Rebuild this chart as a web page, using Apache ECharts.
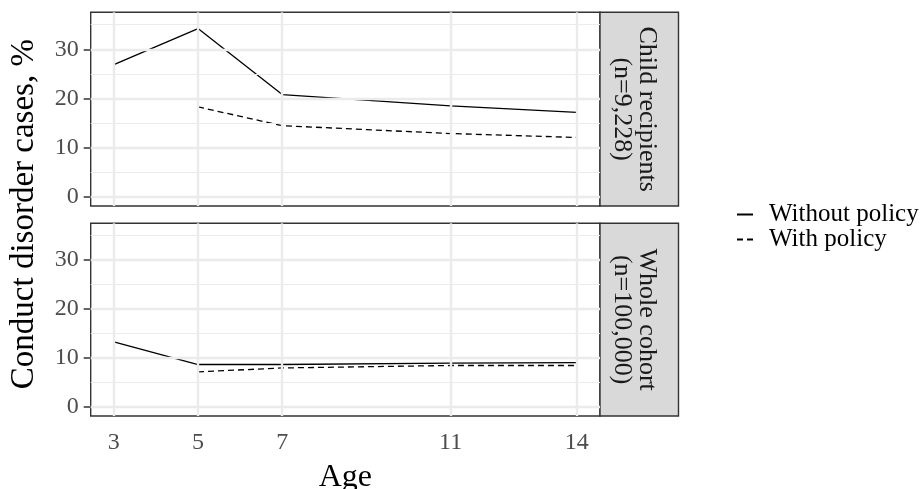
<!DOCTYPE html>
<html>
<head>
<meta charset="utf-8">
<script src="https://cdn.jsdelivr.net/npm/echarts@6/dist/echarts.min.js"></script>
<style>
html,body{margin:0;padding:0;background:#fff;}
#chart{width:922px;height:489px;}
</style>
</head>
<body>
<div id="chart"></div>
<script>
// ---- data ----
const ages = [3, 5, 7, 11, 14];
const childWithout = [26.9, 34.2, 20.8, 18.5, 17.2];
const childWith = [null, 18.3, 14.5, 12.9, 12.1];
const cohortWithout = [13.3, 8.7, 8.7, 9.0, 9.1];
const cohortWith = [null, 7.2, 8.0, 8.5, 8.5];
const yTicks = [0, 10, 20, 30];
const yMinor = [5, 15, 25, 35];
const panelLabels = ['Child recipients\n(n=9,228)', 'Whole cohort\n(n=100,000)'];
const seriesNames = ['Without policy', 'With policy'];

// ---- layout ----
const L = 90.7, R = 600;
const T1 = 12.3, B1 = 206, T2 = 223.3, B2 = 416;
const STRIP_W = 78.5;
const FONT = 'Liberation Serif';

function pairs(xs, ys) {
  const out = [];
  xs.forEach((x, i) => { if (ys[i] != null) out.push([x, ys[i]]); });
  return out;
}

const grids = [
  {left: L, top: T1, width: R - L, height: B1 - T1},
  {left: L, top: T2, width: R - L, height: B2 - T2}
].map(g => Object.assign(g, {show: true, backgroundColor: '#fff', borderColor: '#333', borderWidth: 1.4, containLabel: false}));

function xAxis(idx, showLabels) {
  return {
    type: 'value', gridIndex: idx, min: 2.45, max: 14.55,
    axisLine: {show: false},
    splitLine: {show: false},
    axisTick: {show: showLabels, customValues: ages, length: 7, lineStyle: {color: '#333', width: 1.5}},
    axisLabel: {show: showLabels, customValues: ages, margin: 15, color: '#4d4d4d', fontSize: 24, fontFamily: FONT}
  };
}
function yAxis(idx) {
  return {
    type: 'value', gridIndex: idx, min: -1.8, max: 37.5,
    axisLine: {show: false},
    splitLine: {show: false},
    axisTick: {show: true, customValues: yTicks, length: 7, lineStyle: {color: '#333', width: 1.5}},
    axisLabel: {show: true, customValues: yTicks, margin: 12, color: '#4d4d4d', fontSize: 24, fontFamily: FONT}
  };
}

function gridSeries(idx) {
  const major = {color: '#ebebeb', width: 2.4, type: 'solid'};
  const minor = {color: '#ebebeb', width: 1.2, type: 'solid'};
  const lines = [];
  yMinor.forEach(v => lines.push({yAxis: v, lineStyle: minor}));
  yTicks.forEach(v => lines.push({yAxis: v, lineStyle: major}));
  ages.forEach(v => lines.push({xAxis: v, lineStyle: major}));
  return {
    type: 'line', xAxisIndex: idx, yAxisIndex: idx, data: [], z: 1, silent: true,
    markLine: {silent: true, symbol: ['none', 'none'], label: {show: false}, animation: false, data: lines}
  };
}

function dataSeries(idx, name, ys, dashed) {
  return {
    type: 'line', name: name, xAxisIndex: idx, yAxisIndex: idx, z: 3,
    data: pairs(ages, ys), symbol: 'none', showSymbol: false, animation: false,
    lineStyle: {color: '#000', width: 1.3, type: dashed ? [6, 4] : 'solid'},
    itemStyle: {color: '#000'}
  };
}

const graphics = [];
[[T1, B1], [T2, B2]].forEach(([t, b], i) => {
  graphics.push({type: 'rect', shape: {x: R, y: t, width: STRIP_W, height: b - t},
    style: {fill: '#d9d9d9', stroke: '#333', lineWidth: 1.4}, silent: true});
  graphics.push({type: 'text', x: R + STRIP_W / 2 - 5, y: (t + b) / 2, rotation: -Math.PI / 2, silent: true,
    style: {text: panelLabels[i], fill: '#1a1a1a', font: '26px ' + FONT, align: 'center', verticalAlign: 'middle', lineHeight: 25}});
});
graphics.push({type: 'text', x: 24, y: (T1 + B2) / 2, rotation: Math.PI / 2, silent: true,
  style: {text: 'Conduct disorder cases, %', fill: '#000', font: '33px ' + FONT, align: 'center', verticalAlign: 'middle'}});
graphics.push({type: 'text', x: (L + R) / 2, y: 478, silent: true,
  style: {text: 'Age', fill: '#000', font: '32px ' + FONT, align: 'center', verticalAlign: 'middle'}});

const chart = echarts.init(document.getElementById('chart'), null, {renderer: 'canvas'});
chart.setOption({
  animation: false,
  backgroundColor: '#fff',
  grid: grids,
  xAxis: [xAxis(0, false), xAxis(1, true)],
  yAxis: [yAxis(0), yAxis(1)],
  legend: {
    data: seriesNames, orient: 'vertical', left: 731, top: 197,
    itemWidth: 16, itemHeight: 12, itemGap: 0, selectedMode: false,
    itemStyle: {color: 'rgba(0,0,0,0)', borderWidth: 0, opacity: 0},
    textStyle: {fontFamily: FONT, fontSize: 25, color: '#000', lineHeight: 23, padding: [0, 0, 0, 11]}
  },
  graphic: graphics,
  series: [
    gridSeries(0), gridSeries(1),
    dataSeries(0, seriesNames[0], childWithout, false),
    dataSeries(0, seriesNames[1], childWith, true),
    dataSeries(1, seriesNames[0], cohortWithout, false),
    dataSeries(1, seriesNames[1], cohortWith, true)
  ]
});
</script>
</body>
</html>
